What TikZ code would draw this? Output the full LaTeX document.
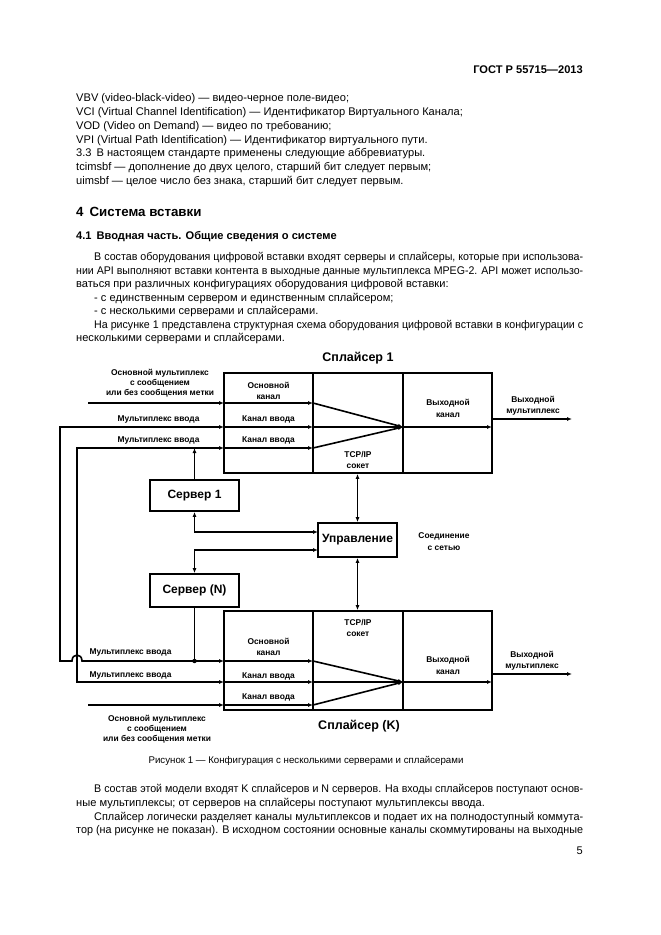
\documentclass[tikz,border=0pt]{standalone}
\usepackage{fontspec}
\setmainfont{Liberation Sans}
\usetikzlibrary{arrows.meta}
\newlength\jw
\newcommand\jline[2]{\settowidth\jw{#2}\ifdim\jw>#1\relax\resizebox{#1}{\height}{#2}\else\makebox[#1][s]{#2}\fi}
\begin{document}
\begin{tikzpicture}[x=1pt,y=-1pt,
  txt/.style={inner sep=0pt, font=\fontsize{11.1}{13.8}\selectfont, anchor=base west},
  btxt/.style={txt, font=\fontsize{11.1}{13.8}\selectfont\bfseries},
  lbl/.style={inner sep=0pt, font=\fontsize{8.4}{11.5}\selectfont\bfseries, align=center},
  lblt/.style={lbl, font=\fontsize{8.4}{10.2}\selectfont\bfseries},
  big/.style={inner sep=0pt, font=\fontsize{12.5}{14}\selectfont\bfseries},
  ln/.style={line width=1.6pt},
  tip/.tip={Latex[length=5pt,width=4pt]},
  arr/.style={ln, -tip},
  dbl/.style={ln, tip-tip},
  box/.style={draw, line width=1.7pt, inner sep=0pt},
  sbox/.style={box, minimum width=89pt, font=\fontsize{12}{14}\selectfont\bfseries},
]
\useasboundingbox (0,0) rectangle (661,935);
\fill[white] (0,0) rectangle (661,935);

% ---------------- page text ----------------
\node[btxt, anchor=base east] (hdr) at (583,73) {ГОСТ Р 55715—2013};
\node[txt] (t1) at (76,101) {VBV (video-black-video) — видео-черное поле-видео;};
\node[txt] (t2) at (76,115) {VCI (Virtual Channel Identification) — Идентификатор Виртуального Канала;};
\node[txt] (t3) at (76,129) {VOD (Video on Demand) — видео по требованию;};
\node[txt] (t4) at (76,143) {VPI (Virtual Path Identification) — Идентификатор виртуального пути.};
\node[txt] (t5) at (76,156) {3.3\hspace{5pt}В настоящем стандарте применены следующие аббревиатуры.};
\node[txt] (t6) at (76,170) {tcimsbf — дополнение до двух целого, старший бит следует первым;};
\node[txt] (t7) at (76,184) {uimsbf — целое число без знака, старший бит следует первым.};

\node[txt, font=\fontsize{13.3}{15}\selectfont\bfseries] (h4) at (76,216) {4\hspace{6pt}Система вставки};
\node[btxt] (h41) at (76,239) {4.1\hspace{5pt}Вводная часть. Общие сведения о системе};

\node[txt] (p1) at (94,260) {\jline{489pt}{В состав оборудования цифровой вставки входят серверы и сплайсеры, которые при использова-}};
\node[txt] (p2) at (76,274) {\jline{507pt}{нии API выполняют вставки контента в выходные данные мультиплекса MPEG-2. API может использо-}};
\node[txt] (p3) at (76,287) {ваться при различных конфигурациях оборудования цифровой вставки:};
\node[txt] (p4) at (94,301) {- с единственным сервером и единственным сплайсером;};
\node[txt] (p5) at (94,314) {- с несколькими серверами и сплайсерами.};
\node[txt] (p6) at (94,328) {\jline{489pt}{На рисунке 1 представлена структурная схема оборудования цифровой вставки в конфигурации с}};
\node[txt] (p7) at (76,341) {несколькими серверами и сплайсерами.};

\node[txt, font=\fontsize{9.7}{12}\selectfont, anchor=base] (cap) at (306,763.5) {Рисунок 1 — Конфигурация с несколькими серверами и сплайсерами};

\node[txt] (q1) at (94,792) {\jline{489pt}{В состав этой модели входят K сплайсеров и N серверов. На входы сплайсеров поступают основ-}};
\node[txt] (q2) at (76,806) {ные мультиплексы; от серверов на сплайсеры поступают мультиплексы ввода.};
\node[txt] (q3) at (94,820) {\jline{489pt}{Сплайсер логически разделяет каналы мультиплексов и подает их на полнодоступный коммута-}};
\node[txt] (q4) at (76,833) {\jline{507pt}{тор (на рисунке не показан). В исходном состоянии основные каналы скоммутированы на выходные}};
\node[txt, anchor=base east] (pg) at (583,854) {5};

% ---------------- diagram boxes ----------------
\node[box, minimum width=268pt, minimum height=100pt] (sp1) at (358,423) {};
\node[box, minimum width=268pt, minimum height=99pt] (spK) at (358,660.5) {};
\draw[box] (313,373) -- (313,473) (403,373) -- (403,473);
\draw[box] (313,611) -- (313,710) (403,611) -- (403,710);
\node[sbox, minimum height=31pt] (srv1) at (194.5,495.5) {Сервер 1};
\node[sbox, minimum height=33pt] (srvN) at (194.5,590.5) {Сервер (N)};
\node[box, minimum width=79pt, minimum height=34pt, font=\fontsize{12}{14}\selectfont\bfseries] (ctl) at (357.5,540) {Управление};

% ---------------- splicer 1 connectors ----------------
\coordinate (a1) at (88,403);
\coordinate (b1) at (224,403); \coordinate (c1) at (313,403);
\coordinate (b2) at (224,427); \coordinate (c2) at (313,427);
\coordinate (b3) at (224,448); \coordinate (c3) at (313,448);
\coordinate (m1) at (403,427); \coordinate (o1) at (492,427);
\coordinate (r1) at (492,419); \coordinate (e1) at (572,419);
\draw[arr] (a1) -- (b1);
\draw[arr] (b1) -- (c1);
\draw[arr] (b2) -- (c2);
\draw[arr] (b3) -- (c3);
\draw[arr] (c1) -- (m1);
\draw[arr] (c2) -- (m1);
\draw[arr] (c3) -- (m1);
\draw[arr] (m1) -- (o1);
\draw[arr] (r1) -- (e1);

% ---------------- splicer K connectors ----------------
\coordinate (a4) at (88,705);
\coordinate (k1) at (224,661); \coordinate (d1) at (313,661);
\coordinate (k2) at (224,682); \coordinate (d2) at (313,682);
\coordinate (k3) at (224,705); \coordinate (d3) at (313,705);
\coordinate (m2) at (403,682); \coordinate (o2) at (492,682);
\coordinate (r2) at (492,674); \coordinate (e2) at (572,674);
\draw[arr] (a4) -- (k3);
\draw[arr] (k1) -- (d1);
\draw[arr] (k2) -- (d2);
\draw[arr] (k3) -- (d3);
\draw[arr] (d1) -- (m2);
\draw[arr] (d2) -- (m2);
\draw[arr] (d3) -- (m2);
\draw[arr] (m2) -- (o2);
\draw[arr] (r2) -- (e2);

% ---------------- left loops ----------------
\coordinate (L1) at (60,427); \coordinate (L2) at (60,661);
\coordinate (h1) at (72,661); \coordinate (h2) at (82,661);
\coordinate (I1) at (77,448); \coordinate (I2) at (77,682);
\draw[dbl] (b2) -- (L1) -- (L2) -- (h1) .. controls (72,653) and (82,653) .. (h2) -- (k1);
\draw[dbl] (b3) -- (I1) -- (I2) -- (k2);

% ---------------- servers / control ----------------
\coordinate (s1t) at (194.5,448);
\coordinate (cw1) at (318,532);
\coordinate (cw2) at (318,550);
\coordinate (jn) at (194.5,661);
\draw[arr] (srv1.north) -- (s1t);
\draw[dbl] (srv1.south) |- (cw1);
\draw[dbl] (srvN.north) |- (cw2);
\draw[ln] (srvN.south) -- (jn);
\fill (jn) circle (2.2pt);
\draw[dbl] (ctl.north) -- (ctl.north |- sp1.south);
\draw[dbl] (ctl.south) -- (ctl.south |- spK.north);

% ---------------- diagram labels ----------------
\node[big] (n1) at (358,358) {Сплайсер 1};
\node[big] (nK) at (359,726) {Сплайсер (K)};
\node[lblt] (l1) at (160,383) {Основной мультиплекс\\с сообщением\\или без сообщения метки};
\node[lbl] (l2) at (158.5,419) {Мультиплекс ввода};
\node[lbl] (l3) at (158.5,440) {Мультиплекс ввода};
\node[lbl] (l4) at (268.5,391) {Основной\\канал};
\node[lbl] (l5) at (268.5,419) {Канал ввода};
\node[lbl] (l6) at (268.5,440) {Канал ввода};
\node[lbl] (l7) at (358,460) {TCP/IP\\сокет};
\node[lbl] (l8) at (448,408.5) {Выходной\\канал};
\node[lbl] (l9) at (533,405.5) {Выходной\\мультиплекс};
\node[lbl] (l10) at (444,541.5) {Соединение\\с сетью};
\node[lbl] (l11) at (130.5,652) {Мультиплекс ввода};
\node[lbl] (l12) at (130.5,675) {Мультиплекс ввода};
\node[lblt] (l13) at (157,729) {Основной мультиплекс\\с сообщением\\или без сообщения метки};
\node[lbl] (l14) at (358,628) {TCP/IP\\сокет};
\node[lbl] (l15) at (268.5,647) {Основной\\канал};
\node[lbl] (l16) at (268.5,676) {Канал ввода};
\node[lbl] (l17) at (268.5,697) {Канал ввода};
\node[lbl] (l18) at (448,665.5) {Выходной\\канал};
\node[lbl] (l19) at (532,660.5) {Выходной\\мультиплекс};
\end{tikzpicture}
\end{document}
